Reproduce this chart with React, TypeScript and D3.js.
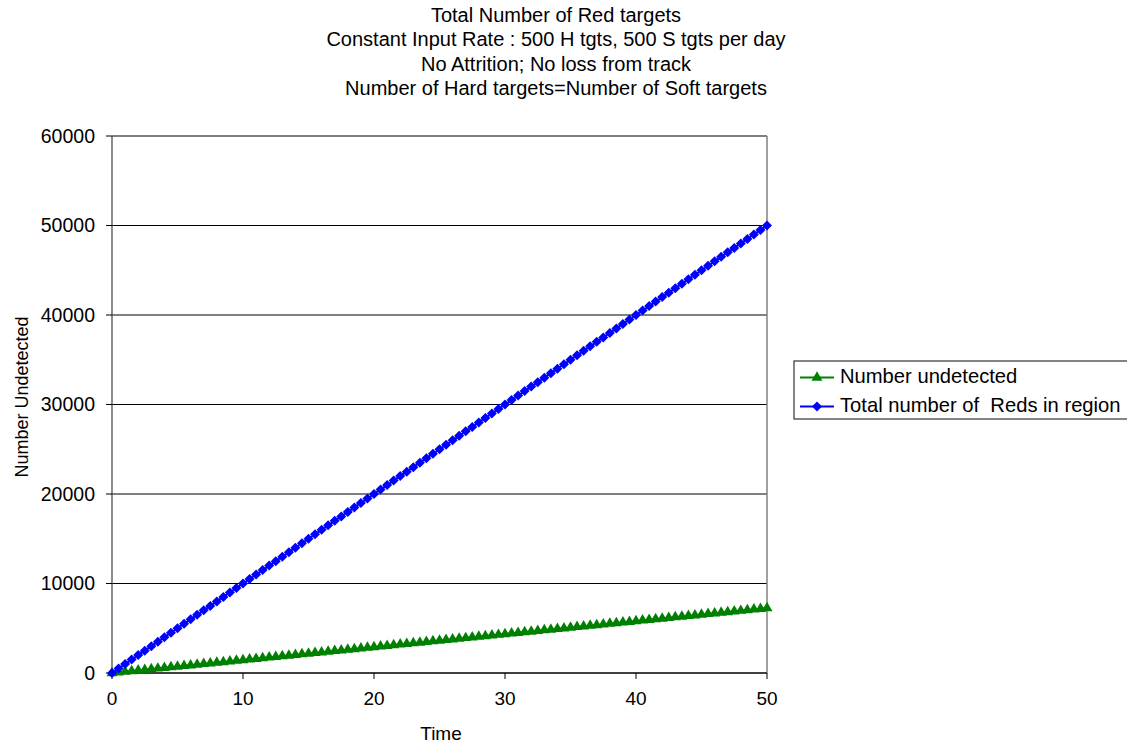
// Total number of Red targets: line chart with markers, Excel-style
import * as d3 from "d3"

const titleLines = [
  "Total Number of Red targets",
  "Constant Input Rate : 500 H tgts, 500 S tgts per day",
  "No Attrition; No loss from track",
  "Number of Hard targets=Number of Soft targets",
]

const time = [
  0, 0.5, 1, 1.5, 2, 2.5, 3, 3.5, 4, 4.5, 5, 5.5, 6, 6.5, 7, 7.5, 8, 8.5, 9, 9.5,
  10, 10.5, 11, 11.5, 12, 12.5, 13, 13.5, 14, 14.5, 15, 15.5, 16, 16.5, 17, 17.5, 18, 18.5, 19, 19.5,
  20, 20.5, 21, 21.5, 22, 22.5, 23, 23.5, 24, 24.5, 25, 25.5, 26, 26.5, 27, 27.5, 28, 28.5, 29, 29.5,
  30, 30.5, 31, 31.5, 32, 32.5, 33, 33.5, 34, 34.5, 35, 35.5, 36, 36.5, 37, 37.5, 38, 38.5, 39, 39.5,
  40, 40.5, 41, 41.5, 42, 42.5, 43, 43.5, 44, 44.5, 45, 45.5, 46, 46.5, 47, 47.5, 48, 48.5, 49, 49.5,
  50,
]

const undetected = [
  0, 73, 145, 218, 290, 363, 435, 508, 580, 653, 725, 798, 870, 943, 1015, 1088, 1160, 1233, 1305, 1378,
  1450, 1523, 1595, 1668, 1740, 1813, 1885, 1958, 2030, 2103, 2175, 2248, 2320, 2393, 2465, 2538, 2610, 2683, 2755, 2828,
  2900, 2973, 3045, 3118, 3190, 3263, 3335, 3408, 3480, 3553, 3625, 3698, 3770, 3843, 3915, 3988, 4060, 4133, 4205, 4278,
  4350, 4423, 4495, 4568, 4640, 4713, 4785, 4858, 4930, 5003, 5075, 5148, 5220, 5293, 5365, 5438, 5510, 5583, 5655, 5728,
  5800, 5873, 5945, 6018, 6090, 6163, 6235, 6308, 6380, 6453, 6525, 6598, 6670, 6743, 6815, 6888, 6960, 7033, 7105, 7178,
  7250,
]

const totalReds = [
  0, 500, 1000, 1500, 2000, 2500, 3000, 3500, 4000, 4500, 5000, 5500, 6000, 6500, 7000, 7500, 8000, 8500, 9000, 9500,
  10000, 10500, 11000, 11500, 12000, 12500, 13000, 13500, 14000, 14500, 15000, 15500, 16000, 16500, 17000, 17500, 18000, 18500, 19000, 19500,
  20000, 20500, 21000, 21500, 22000, 22500, 23000, 23500, 24000, 24500, 25000, 25500, 26000, 26500, 27000, 27500, 28000, 28500, 29000, 29500,
  30000, 30500, 31000, 31500, 32000, 32500, 33000, 33500, 34000, 34500, 35000, 35500, 36000, 36500, 37000, 37500, 38000, 38500, 39000, 39500,
  40000, 40500, 41000, 41500, 42000, 42500, 43000, 43500, 44000, 44500, 45000, 45500, 46000, 46500, 47000, 47500, 48000, 48500, 49000, 49500,
  50000,
]

const xTicks = [0, 10, 20, 30, 40, 50]
const yTicks = [0, 10000, 20000, 30000, 40000, 50000, 60000]

const W = 1127
const H = 746
const plot = { left: 112, right: 767, top: 136, bottom: 673 }
const FONT = "Liberation Sans, Arial, sans-serif"

const GREEN = "#008000"
const BLUE = "#0000ff"

const triangle = d3.symbol().type(d3.symbolTriangle).size(52)
const diamond = (s: number) => `M0,${-s}L${s},0L0,${s}L${-s},0Z`

export default function App() {
  const x = d3.scaleLinear().domain([0, 50]).range([plot.left, plot.right])
  const y = d3.scaleLinear().domain([0, 60000]).range([plot.bottom, plot.top])

  const series = [
    { name: "Number undetected", values: undetected, color: GREEN, marker: "tri" },
    { name: "Total number of  Reds in region", values: totalReds, color: BLUE, marker: "dia" },
  ]

  const line = (vals: number[]) =>
    d3.line<number>().x((_, i) => x(time[i])).y(d => y(d))(vals) || ""

  const markerPath = (m: string) => (m === "tri" ? triangle() || "" : diamond(5))

  return (
    <div style={{ position: "absolute", left: 0, top: 0 }}>
      <svg width={W} height={H} style={{ display: "block", background: "#fff" }} fontFamily={FONT}>
        {/* title */}
        {titleLines.map((t, i) => (
          <text key={i} x={556} y={21.5 + i * 24.5} textAnchor="middle" fontSize={20} fill="#000">
            {t}
          </text>
        ))}

        {/* gridlines */}
        {yTicks.map(t => (
          <line key={t} x1={plot.left} x2={plot.right} y1={y(t)} y2={y(t)} stroke="#000" strokeWidth={1} />
        ))}
        {/* right border */}
        <line x1={plot.right} x2={plot.right} y1={plot.top} y2={plot.bottom} stroke="#808080" strokeWidth={1.5} />
        {/* axes */}
        <line x1={plot.left} x2={plot.left} y1={plot.top} y2={plot.bottom} stroke="#404040" strokeWidth={1.2} />
        <line x1={plot.left} x2={plot.right} y1={plot.bottom} y2={plot.bottom} stroke="#000" strokeWidth={1} />

        {yTicks.map(t => (
          <g key={t}>
            <line x1={plot.left - 6} x2={plot.left} y1={y(t)} y2={y(t)} stroke="#000" />
            <text x={95} y={y(t)} dy="0.35em" textAnchor="end" fontSize={19.5} fill="#000">
              {t}
            </text>
          </g>
        ))}
        {xTicks.map(t => (
          <g key={t}>
            <line x1={x(t)} x2={x(t)} y1={plot.bottom} y2={plot.bottom + 6} stroke="#000" />
            <text x={x(t)} y={705} textAnchor="middle" fontSize={19} fill="#000">
              {t}
            </text>
          </g>
        ))}

        <text x={441} y={740} textAnchor="middle" fontSize={19} fill="#000">Time</text>
        <text transform={`translate(28,397) rotate(-90)`} textAnchor="middle" fontSize={18} fill="#000">
          Number Undetected
        </text>

        {/* series */}
        {series.map(s => (
          <g key={s.name}>
            <path d={line(s.values)} fill="none" stroke={s.color} strokeWidth={2} />
            {s.values.map((v, i) => (
              <path key={i} d={markerPath(s.marker)} transform={`translate(${x(time[i])},${y(v)})`} fill={s.color} />
            ))}
          </g>
        ))}

        {/* legend */}
        <rect x={794} y={361} width={340} height={58} fill="#fff" stroke="#333" strokeWidth={1.2} />
        {series.map((s, i) => {
          const ly = 377.5 + i * 29
          return (
            <g key={s.name}>
              <line x1={800} x2={834} y1={ly} y2={ly} stroke={s.color} strokeWidth={2} />
              <path d={markerPath(s.marker)} transform={`translate(817,${ly})`} fill={s.color} />
              <text x={840} y={ly + 5.5} fontSize={20.2} fill="#000" style={{ whiteSpace: "pre" }}>
                {s.name}
              </text>
            </g>
          )
        })}
      </svg>
    </div>
  )
}
